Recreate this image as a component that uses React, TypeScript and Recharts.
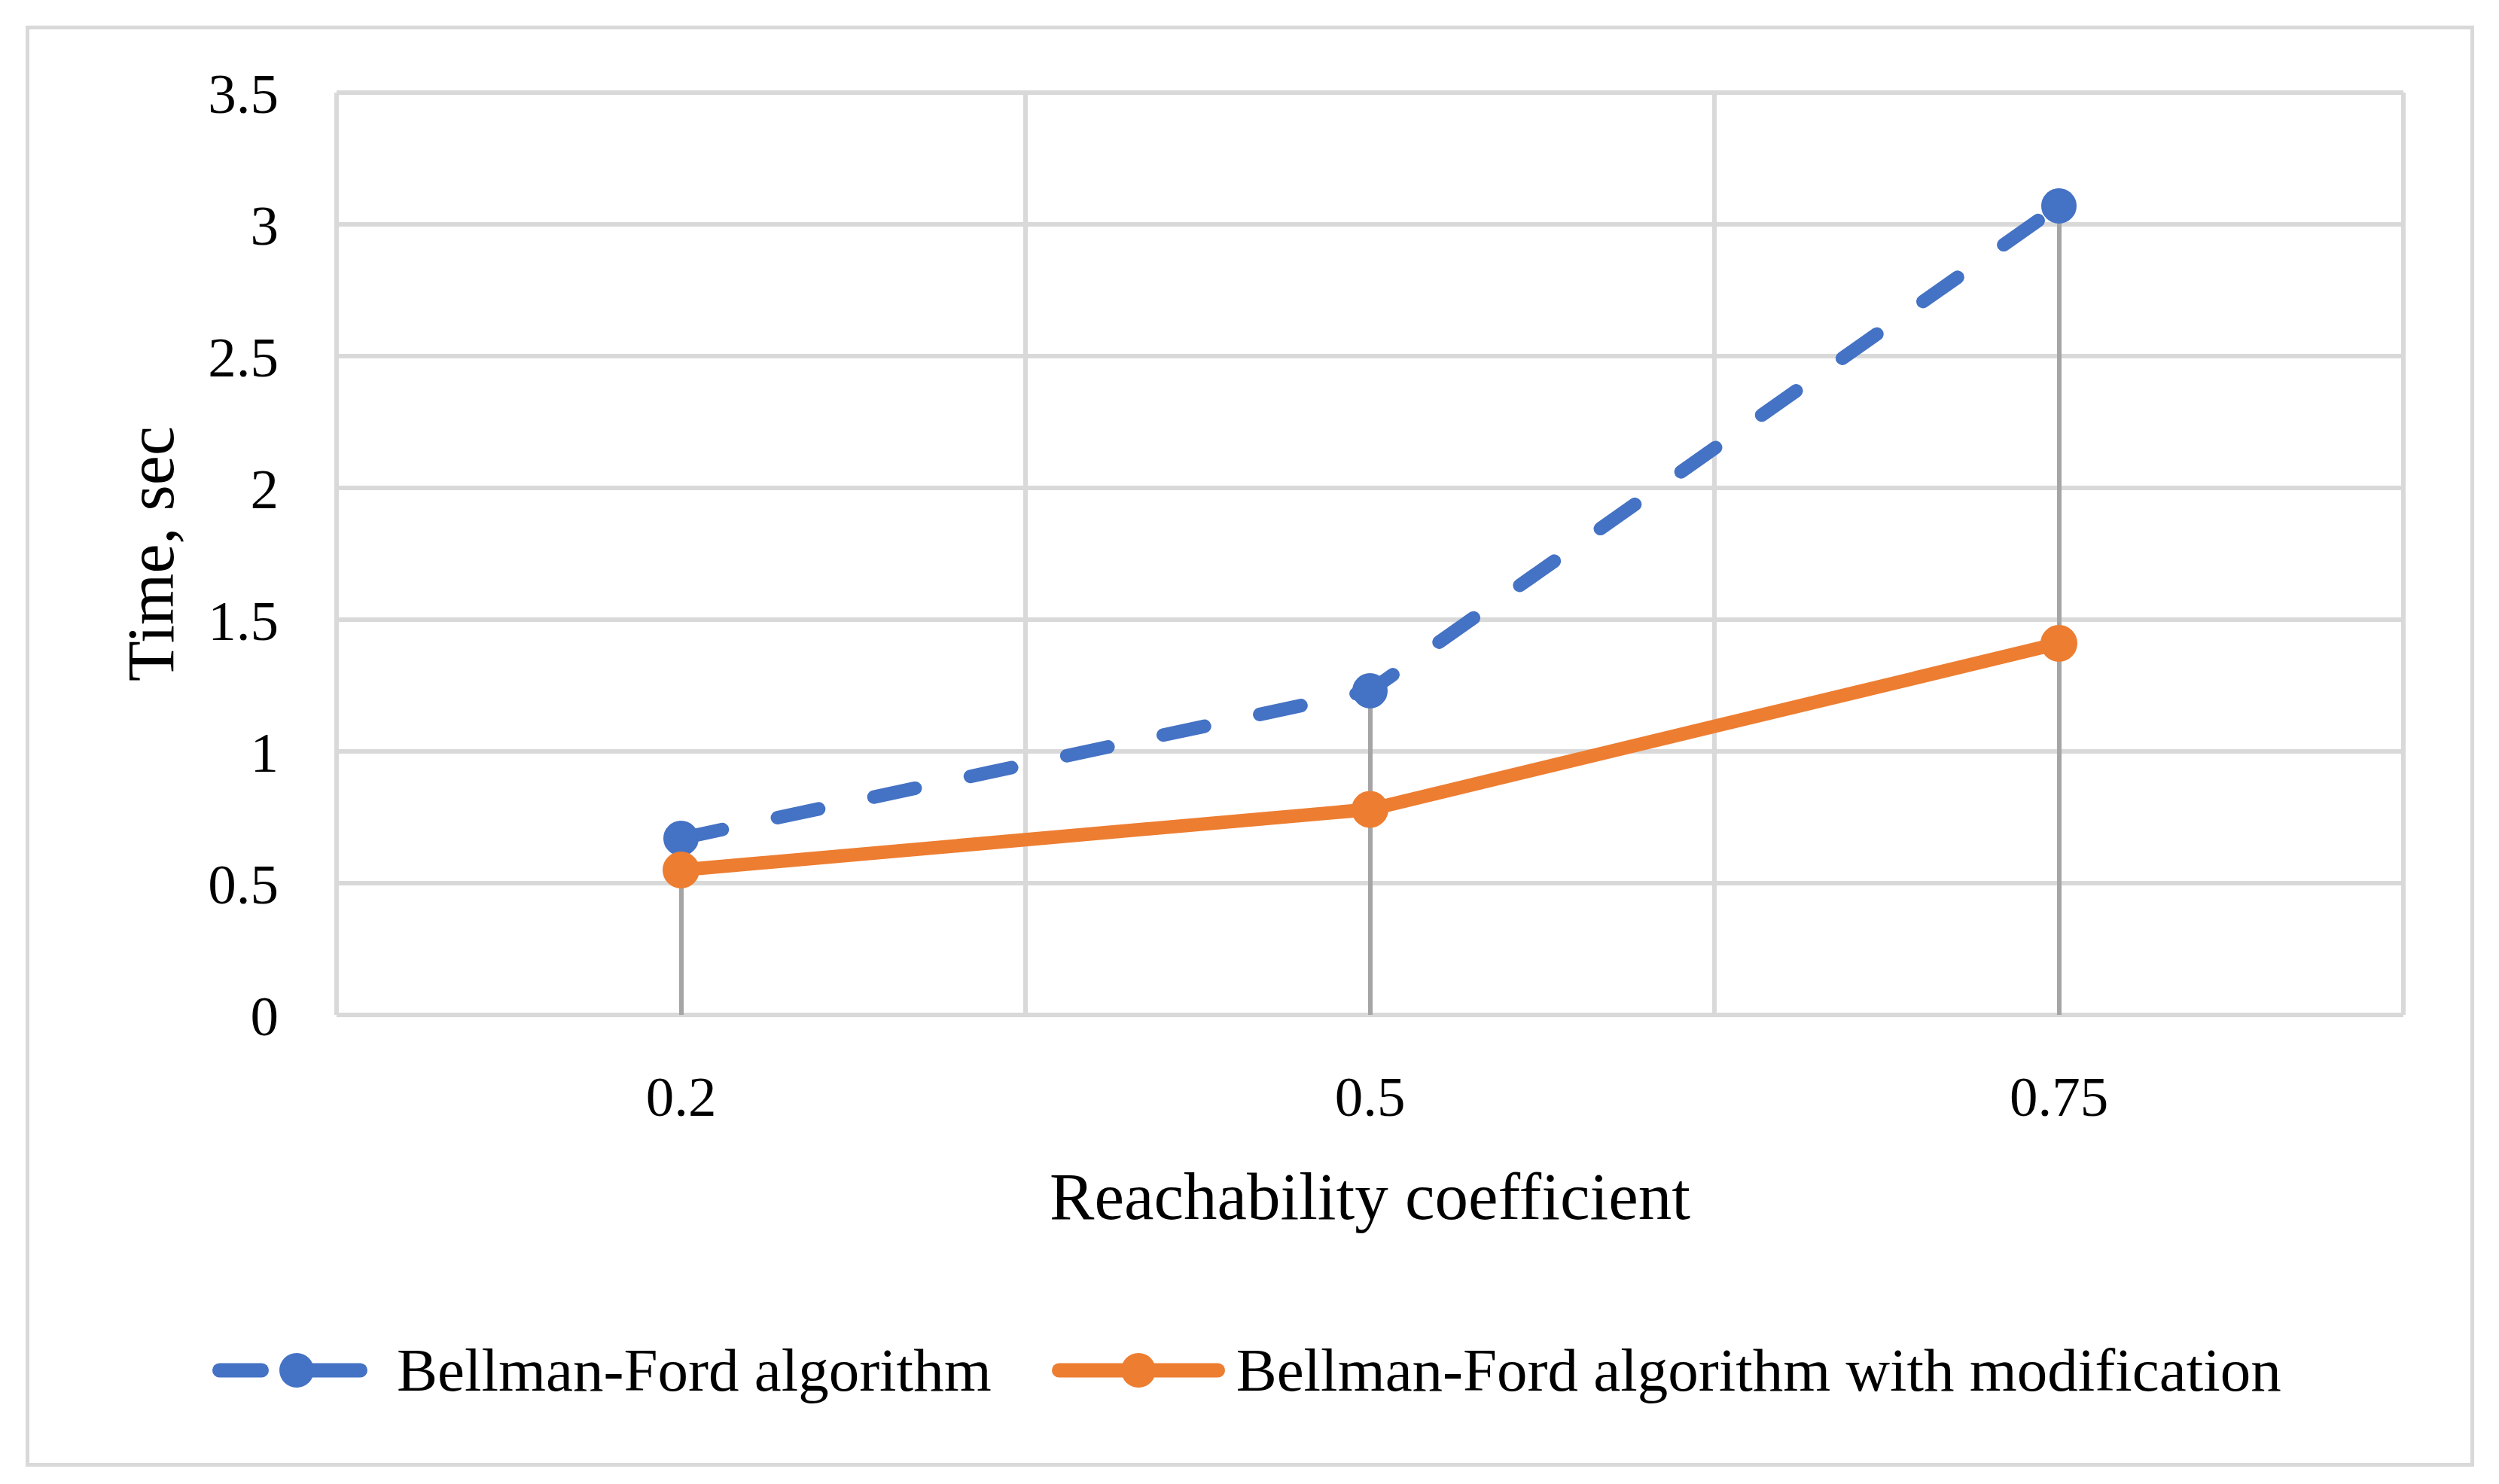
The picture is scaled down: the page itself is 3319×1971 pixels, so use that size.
import React from "react";
import {
  ComposedChart,
  Line,
  Bar,
  XAxis,
  YAxis,
  CartesianGrid,
  Legend,
} from "recharts";

// values
const categories = ["0.2", "0.5", "0.75"];
const bellmanFord = [0.67, 1.23, 3.07];
const bellmanFordModified = [0.55, 0.78, 1.41];
const yTicks = [0, 0.5, 1, 1.5, 2, 2.5, 3, 3.5];

const BLUE = "#4472C4";
const ORANGE = "#ED7D31";
const GRID = "#D9D9D9";
const DROP = "#A5A5A5";
const FONT = "'Liberation Serif', 'DejaVu Serif', serif";

const data = categories.map((c, i) => ({
  name: c,
  bf: bellmanFord[i],
  bfm: bellmanFordModified[i],
  drop: Math.max(bellmanFord[i], bellmanFordModified[i]),
}));

function LegendBox() {
  return (
    <div
      style={{
        display: "flex",
        alignItems: "center",
        height: 100,
        paddingLeft: 282,
        fontFamily: FONT,
        fontSize: 81,
        color: "#000",
      }}
    >
      <div style={{ display: "flex", alignItems: "center" }}>
        <svg width={206} height={60} style={{ marginRight: 39 }}>
          <line x1={9.5} y1={30} x2={65.5} y2={30} stroke={BLUE} strokeWidth={19} strokeLinecap="round" />
          <line x1={112} y1={30} x2={196.5} y2={30} stroke={BLUE} strokeWidth={19} strokeLinecap="round" />
          <circle cx={112} cy={30} r={23} fill={BLUE} />
        </svg>
        <span>Bellman-Ford algorithm</span>
      </div>
      <div style={{ display: "flex", alignItems: "center", marginLeft: 80 }}>
        <svg width={230} height={60} style={{ marginRight: 15 }}>
          <line x1={9.5} y1={30} x2={220.5} y2={30} stroke={ORANGE} strokeWidth={19} strokeLinecap="round" />
          <circle cx={115} cy={30} r={23} fill={ORANGE} />
        </svg>
        <span>Bellman-Ford algorithm with modification</span>
      </div>
    </div>
  );
}

export default function App() {
  return (
    <div
      style={{
        position: "absolute",
        left: 0,
        top: 0,
        width: 3319,
        height: 1971,
        background: "#fff",
      }}
    >
      <div
        style={{
          position: "absolute",
          left: 34,
          top: 34,
          width: 3242,
          height: 1904,
          border: `5px solid ${GRID}`,
        }}
      />
      <ComposedChart
        width={3319}
        height={1971}
        data={data}
        margin={{ top: 123, right: 127, bottom: 0, left: 0 }}
      >
        <CartesianGrid
          stroke={GRID}
          strokeWidth={6}
          verticalCoordinatesGenerator={({ offset }: any) =>
            [0, 1, 2, 3].map((i) => offset.left + (i * offset.width) / categories.length)
          }
        />
        <XAxis
          dataKey="name"
          height={623}
          axisLine={false}
          tickLine={false}
          tickSize={0}
          tickMargin={81}
          tick={{ fill: "#000", fontSize: 75, fontFamily: FONT }}
          label={{
            value: "Reachability coefficient",
            position: "insideTop",
            offset: 208,
            fill: "#000",
            fontSize: 89,
            fontFamily: FONT,
          }}
        />
        <YAxis
          width={447}
          domain={[0, 3.5]}
          ticks={yTicks}
          axisLine={false}
          tickLine={false}
          tickSize={0}
          tickMargin={77}
          tick={{ fill: "#000", fontSize: 75, fontFamily: FONT }}
          label={{
            value: "Time, sec",
            angle: -90,
            position: "center",
            dx: -25,
            fill: "#000",
            fontSize: 88,
            fontFamily: FONT,
          }}
        />
        <Legend
          layout="horizontal"
          verticalAlign="middle"
          align="center"
          content={() => <LegendBox />}
          wrapperStyle={{ top: 1770, left: 0, width: 3319 }}
        />
        <Line
          type="linear"
          dataKey="bf"
          stroke={BLUE}
          strokeWidth={18}
          strokeDasharray="56 75"
          strokeLinecap="round"
          dot={{ r: 22, fill: BLUE, stroke: BLUE, strokeWidth: 3, strokeDasharray: "0" }}
          isAnimationActive={false}
        />
        <Line
          type="linear"
          dataKey="bfm"
          stroke={ORANGE}
          strokeWidth={18}
          dot={{ r: 23, fill: ORANGE, stroke: ORANGE, strokeWidth: 3 }}
          isAnimationActive={false}
        />
        <Bar dataKey="drop" barSize={6} fill={DROP} isAnimationActive={false} />
      </ComposedChart>
    </div>
  );
}
